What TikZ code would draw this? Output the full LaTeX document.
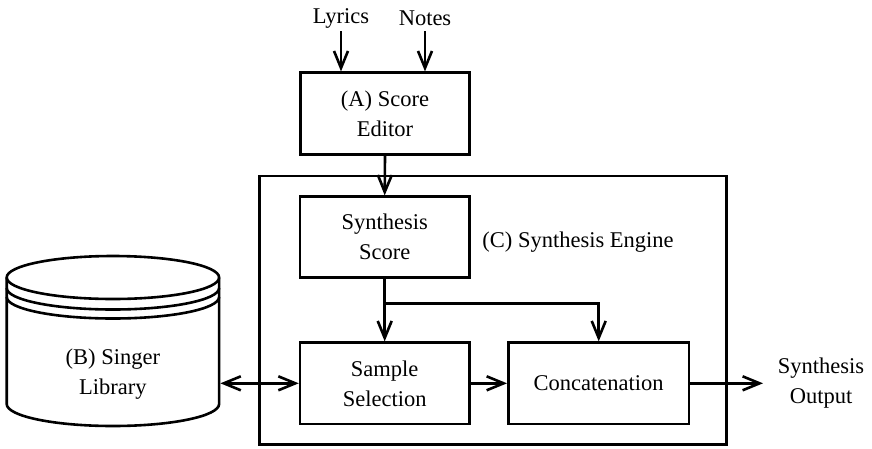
\documentclass[tikz,border=0pt]{standalone}
\usepackage{fontspec}
\setmainfont{Liberation Serif}
\usetikzlibrary{arrows.meta}
\begin{document}
\begin{tikzpicture}[x=1pt,y=-1pt,line width=2.6pt,
  txt/.style={align=center,inner sep=0pt,font=\fontsize{22.5}{30}\selectfont},
  blk/.style={txt,draw,rectangle},
  arr/.style={-{Straight Barb[length=17pt,width=14pt]}},
  darr/.style={{Straight Barb[length=17pt,width=14pt]}-{Straight Barb[length=17pt,width=14pt]}}]
\useasboundingbox (0,0) rectangle (872,448);

% inputs
\node[txt] (lyr) at (341,18) {Lyrics};
\node[txt] (not) at (425,18) {Notes};

% score editor
\node[blk,minimum width=168.6pt,minimum height=81.6pt] (ed) at (385,113.5) {(A) Score\\Editor};

% synthesis engine frame
\node[draw,rectangle,minimum width=467.4pt,minimum height=268.5pt,inner sep=0pt] (eng) at (493,310.25) {};
\node[txt] (englbl) at (578,242) {(C) Synthesis Engine};

\node[blk,minimum width=169.3pt,minimum height=80.6pt] (sc) at (384.7,237) {Synthesis\\Score};
\node[blk,minimum width=169.3pt,minimum height=81.3pt] (sel) at (384.7,383.3) {Sample\\Selection};
\node[blk,minimum width=180.7pt,minimum height=81.3pt] (cat) at (598.7,383.3) {Concatenation};

\node[txt] (out) at (821,383) {Synthesis\\Output};
\coordinate (outend) at (763,383.3);
\coordinate (br) at (sc.south |- 0,303.3);

% singer library drum
\draw (6.7,277.5) -- (6.7,404) arc[start angle=180,end angle=360,x radius=106.2,y radius=-22] -- (219.1,277.5);
\draw (112.9,277.5) ellipse[x radius=106.2,y radius=21.5];
\draw (6.7,288) arc[start angle=180,end angle=360,x radius=106.2,y radius=-21.5];
\draw (6.7,297) arc[start angle=180,end angle=360,x radius=106.2,y radius=-21.5];
\node[txt,minimum width=212.4pt,minimum height=150pt] (lib) at (112.9,374) {(B) Singer\\Library};

% connectors
\draw[arr] (lyr.south |- 0,31) -- (lyr.south |- ed.north);
\draw[arr] (not.south |- 0,31) -- (not.south |- ed.north);
\draw[arr] (ed.south) -- (sc.north);
\draw[arr] (sc.south) -- (sel.north);
\draw[arr] (br) -| (cat.north);
\draw[arr] (sel.east) -- (cat.west);
\draw[arr] (cat.east) -- (outend);
\draw[darr] (lib.east |- sel) -- (sel.west);
\end{tikzpicture}
\end{document}
